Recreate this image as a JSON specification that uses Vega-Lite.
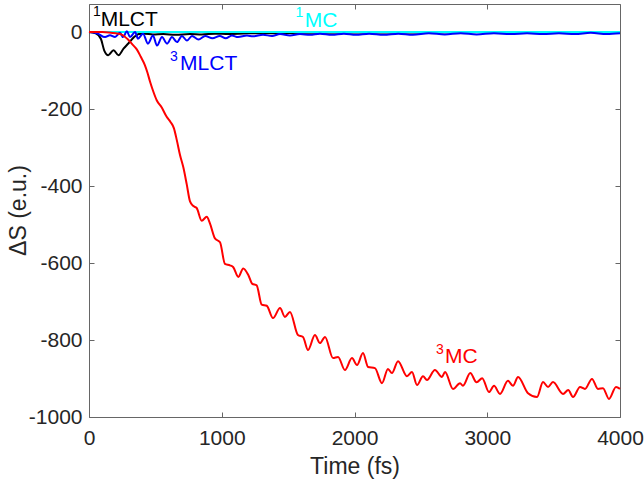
{
  "$schema": "https://vega.github.io/schema/vega-lite/v6.json",
  "width": 531,
  "height": 413,
  "autosize": {"type": "none"},
  "padding": {"left": 89, "top": 4, "right": 24, "bottom": 70},
  "background": "white",
  "config": {
    "view": {"stroke": null},
    "axis": {
      "grid": false,
      "domainColor": "#666666",
      "domainWidth": 1,
      "tickColor": "#666666",
      "tickSize": -5,
      "tickWidth": 1,
      "labelFont": "Liberation Sans",
      "labelFontSize": 21,
      "labelColor": "#262626",
      "titleFont": "Liberation Sans",
      "titleFontSize": 23,
      "titleFontWeight": "normal",
      "titleColor": "#262626",
      "labelFlush": false,
      "labelOverlap": false,
      "labelExpr": "toString(datum.value)"
    }
  },
  "datasets": {
    "curves": [
      {"s": "1MLCT", "t": 0, "v": 0}, {"s": "1MLCT", "t": 50, "v": -3}, {"s": "1MLCT", "t": 90, "v": -18}, {"s": "1MLCT", "t": 115, "v": -48}, {"s": "1MLCT", "t": 145, "v": -60}, {"s": "1MLCT", "t": 185, "v": -47}, {"s": "1MLCT", "t": 222, "v": -60}, {"s": "1MLCT", "t": 260, "v": -43}, {"s": "1MLCT", "t": 298, "v": -29}, {"s": "1MLCT", "t": 340, "v": -13}, {"s": "1MLCT", "t": 375, "v": -5}, {"s": "1MLCT", "t": 420, "v": -4}, {"s": "1MLCT", "t": 480, "v": -6}, {"s": "1MLCT", "t": 560, "v": -5}, {"s": "1MLCT", "t": 650, "v": -7}, {"s": "1MLCT", "t": 760, "v": -5}, {"s": "1MLCT", "t": 850, "v": -6}, {"s": "1MLCT", "t": 950, "v": -4}, {"s": "1MLCT", "t": 1050, "v": -5}, {"s": "1MLCT", "t": 1200, "v": -3}, {"s": "1MLCT", "t": 1400, "v": -3}, {"s": "1MLCT", "t": 1600, "v": -2}, {"s": "1MLCT", "t": 2000, "v": -1}, {"s": "1MLCT", "t": 2500, "v": -1}, {"s": "1MLCT", "t": 3000, "v": 0}, {"s": "1MLCT", "t": 4000, "v": 0},
      {"s": "1MC", "t": 0, "v": 0}, {"s": "1MC", "t": 1000, "v": 0}, {"s": "1MC", "t": 2000, "v": 0}, {"s": "1MC", "t": 3000, "v": 0}, {"s": "1MC", "t": 4000, "v": 0},
      {"s": "3MLCT", "t": 0, "v": 0}, {"s": "3MLCT", "t": 60, "v": -3}, {"s": "3MLCT", "t": 121, "v": -13}, {"s": "3MLCT", "t": 158, "v": -8}, {"s": "3MLCT", "t": 196, "v": -13}, {"s": "3MLCT", "t": 234, "v": -2}, {"s": "3MLCT", "t": 256, "v": -13}, {"s": "3MLCT", "t": 286, "v": 2}, {"s": "3MLCT", "t": 309, "v": -13}, {"s": "3MLCT", "t": 347, "v": 0}, {"s": "3MLCT", "t": 369, "v": -17}, {"s": "3MLCT", "t": 407, "v": -4}, {"s": "3MLCT", "t": 444, "v": -30}, {"s": "3MLCT", "t": 482, "v": -9}, {"s": "3MLCT", "t": 512, "v": -35}, {"s": "3MLCT", "t": 550, "v": -13}, {"s": "3MLCT", "t": 588, "v": -30}, {"s": "3MLCT", "t": 625, "v": -13}, {"s": "3MLCT", "t": 663, "v": -26}, {"s": "3MLCT", "t": 700, "v": -10}, {"s": "3MLCT", "t": 738, "v": -22}, {"s": "3MLCT", "t": 776, "v": -10}, {"s": "3MLCT", "t": 825, "v": -19}, {"s": "3MLCT", "t": 875, "v": -10}, {"s": "3MLCT", "t": 930, "v": -16}, {"s": "3MLCT", "t": 985, "v": -10}, {"s": "3MLCT", "t": 1030, "v": -16}, {"s": "3MLCT", "t": 1077, "v": -9}, {"s": "3MLCT", "t": 1122, "v": -13}, {"s": "3MLCT", "t": 1190, "v": -9}, {"s": "3MLCT", "t": 1235, "v": -11}, {"s": "3MLCT", "t": 1311, "v": -7}, {"s": "3MLCT", "t": 1379, "v": -10}, {"s": "3MLCT", "t": 1439, "v": -5}, {"s": "3MLCT", "t": 1514, "v": -9}, {"s": "3MLCT", "t": 1589, "v": -5}, {"s": "3MLCT", "t": 1665, "v": -7}, {"s": "3MLCT", "t": 1740, "v": -4}, {"s": "3MLCT", "t": 1830, "v": -7}, {"s": "3MLCT", "t": 1920, "v": -4}, {"s": "3MLCT", "t": 2010, "v": -7}, {"s": "3MLCT", "t": 2110, "v": -4}, {"s": "3MLCT", "t": 2220, "v": -7}, {"s": "3MLCT", "t": 2330, "v": -4}, {"s": "3MLCT", "t": 2440, "v": -7}, {"s": "3MLCT", "t": 2560, "v": -3}, {"s": "3MLCT", "t": 2680, "v": -6}, {"s": "3MLCT", "t": 2800, "v": -3}, {"s": "3MLCT", "t": 2920, "v": -6}, {"s": "3MLCT", "t": 3050, "v": -3}, {"s": "3MLCT", "t": 3180, "v": -5}, {"s": "3MLCT", "t": 3300, "v": -3}, {"s": "3MLCT", "t": 3420, "v": -5}, {"s": "3MLCT", "t": 3540, "v": -3}, {"s": "3MLCT", "t": 3660, "v": -5}, {"s": "3MLCT", "t": 3780, "v": -2}, {"s": "3MLCT", "t": 3900, "v": -5}, {"s": "3MLCT", "t": 4000, "v": -3},
      {"s": "3MC", "t": 0, "v": 0}, {"s": "3MC", "t": 100, "v": 0}, {"s": "3MC", "t": 150, "v": -1}, {"s": "3MC", "t": 200, "v": -3}, {"s": "3MC", "t": 250, "v": -7}, {"s": "3MC", "t": 290, "v": -18}, {"s": "3MC", "t": 330, "v": -33}, {"s": "3MC", "t": 360, "v": -45}, {"s": "3MC", "t": 390, "v": -64}, {"s": "3MC", "t": 420, "v": -85}, {"s": "3MC", "t": 440, "v": -105}, {"s": "3MC", "t": 460, "v": -129}, {"s": "3MC", "t": 485, "v": -155}, {"s": "3MC", "t": 510, "v": -177}, {"s": "3MC", "t": 548, "v": -196}, {"s": "3MC", "t": 585, "v": -220}, {"s": "3MC", "t": 615, "v": -234}, {"s": "3MC", "t": 640, "v": -250}, {"s": "3MC", "t": 661, "v": -280}, {"s": "3MC", "t": 686, "v": -320}, {"s": "3MC", "t": 711, "v": -352}, {"s": "3MC", "t": 736, "v": -395}, {"s": "3MC", "t": 761, "v": -440}, {"s": "3MC", "t": 786, "v": -452}, {"s": "3MC", "t": 811, "v": -457}, {"s": "3MC", "t": 849, "v": -490}, {"s": "3MC", "t": 887, "v": -480}, {"s": "3MC", "t": 911, "v": -497}, {"s": "3MC", "t": 949, "v": -536}, {"s": "3MC", "t": 987, "v": -546}, {"s": "3MC", "t": 1024, "v": -602}, {"s": "3MC", "t": 1062, "v": -606}, {"s": "3MC", "t": 1087, "v": -611}, {"s": "3MC", "t": 1125, "v": -636}, {"s": "3MC", "t": 1162, "v": -614}, {"s": "3MC", "t": 1200, "v": -631}, {"s": "3MC", "t": 1230, "v": -654}, {"s": "3MC", "t": 1263, "v": -658}, {"s": "3MC", "t": 1301, "v": -708}, {"s": "3MC", "t": 1339, "v": -711}, {"s": "3MC", "t": 1386, "v": -743}, {"s": "3MC", "t": 1439, "v": -717}, {"s": "3MC", "t": 1476, "v": -740}, {"s": "3MC", "t": 1514, "v": -727}, {"s": "3MC", "t": 1574, "v": -787}, {"s": "3MC", "t": 1612, "v": -792}, {"s": "3MC", "t": 1650, "v": -826}, {"s": "3MC", "t": 1702, "v": -787}, {"s": "3MC", "t": 1740, "v": -808}, {"s": "3MC", "t": 1778, "v": -792}, {"s": "3MC", "t": 1838, "v": -847}, {"s": "3MC", "t": 1876, "v": -844}, {"s": "3MC", "t": 1928, "v": -878}, {"s": "3MC", "t": 1981, "v": -847}, {"s": "3MC", "t": 2019, "v": -865}, {"s": "3MC", "t": 2064, "v": -834}, {"s": "3MC", "t": 2102, "v": -870}, {"s": "3MC", "t": 2154, "v": -873}, {"s": "3MC", "t": 2207, "v": -912}, {"s": "3MC", "t": 2252, "v": -875}, {"s": "3MC", "t": 2282, "v": -886}, {"s": "3MC", "t": 2328, "v": -855}, {"s": "3MC", "t": 2395, "v": -894}, {"s": "3MC", "t": 2433, "v": -883}, {"s": "3MC", "t": 2471, "v": -917}, {"s": "3MC", "t": 2516, "v": -894}, {"s": "3MC", "t": 2546, "v": -904}, {"s": "3MC", "t": 2606, "v": -878}, {"s": "3MC", "t": 2659, "v": -896}, {"s": "3MC", "t": 2682, "v": -883}, {"s": "3MC", "t": 2742, "v": -927}, {"s": "3MC", "t": 2795, "v": -912}, {"s": "3MC", "t": 2817, "v": -919}, {"s": "3MC", "t": 2872, "v": -886}, {"s": "3MC", "t": 2920, "v": -910}, {"s": "3MC", "t": 2962, "v": -899}, {"s": "3MC", "t": 3013, "v": -935}, {"s": "3MC", "t": 3051, "v": -919}, {"s": "3MC", "t": 3096, "v": -940}, {"s": "3MC", "t": 3156, "v": -906}, {"s": "3MC", "t": 3194, "v": -919}, {"s": "3MC", "t": 3232, "v": -896}, {"s": "3MC", "t": 3307, "v": -938}, {"s": "3MC", "t": 3375, "v": -948}, {"s": "3MC", "t": 3420, "v": -909}, {"s": "3MC", "t": 3458, "v": -922}, {"s": "3MC", "t": 3495, "v": -909}, {"s": "3MC", "t": 3571, "v": -940}, {"s": "3MC", "t": 3610, "v": -930}, {"s": "3MC", "t": 3646, "v": -948}, {"s": "3MC", "t": 3699, "v": -922}, {"s": "3MC", "t": 3736, "v": -927}, {"s": "3MC", "t": 3789, "v": -901}, {"s": "3MC", "t": 3834, "v": -927}, {"s": "3MC", "t": 3872, "v": -925}, {"s": "3MC", "t": 3917, "v": -953}, {"s": "3MC", "t": 3970, "v": -922}, {"s": "3MC", "t": 4000, "v": -927}
    ],
    "labels": [
      {"label": "MLCT", "t": 88, "v": 15, "c": "black"},
      {"label": "MC", "t": 1625, "v": 14, "c": "cyan"},
      {"label": "MLCT", "t": 686, "v": -99, "c": "blue"},
      {"label": "MC", "t": 2682, "v": -860, "c": "red"}
    ],
    "sups": [
      {"label": "1", "t": 30, "v": 43, "c": "black"},
      {"label": "1", "t": 1555, "v": 40, "c": "cyan"},
      {"label": "3", "t": 610, "v": -75, "c": "blue"},
      {"label": "3", "t": 2614, "v": -837, "c": "red"}
    ]
  },
  "data": {"name": "curves"},
  "layer": [
    {
      "transform": [{"filter": "datum.s === '1MLCT'"}],
      "mark": {"type": "line", "color": "#000000", "strokeWidth": 2, "interpolate": "monotone"},
      "encoding": {
        "x": {"field": "t", "type": "quantitative", "scale": {"domain": [0, 4000], "nice": false},
          "axis": {"orient": "bottom", "title": "Time (fs)", "values": [0, 1000, 2000, 3000, 4000], "labelPadding": 15, "titleY": 49, "titleBaseline": "middle"}},
        "y": {"field": "v", "type": "quantitative", "scale": {"domain": [-1000, 73], "nice": false, "zero": false},
          "axis": {"orient": "left", "title": "ΔS (e.u.)", "values": [-1000, -800, -600, -400, -200, 0], "labelPadding": 12, "titleX": -71, "titleY": 206, "titleAngle": -90, "titleBaseline": "middle", "titleAlign": "center"}}
      }
    },
    {
      "transform": [{"filter": "datum.s === '1MC'"}],
      "mark": {"type": "line", "color": "#00FFFF", "strokeWidth": 2},
      "encoding": {
        "x": {"field": "t", "type": "quantitative", "axis": {"orient": "top", "labels": false, "title": null, "values": [0, 1000, 2000, 3000, 4000]}},
        "y": {"field": "v", "type": "quantitative", "axis": {"orient": "right", "labels": false, "title": null, "values": [-1000, -800, -600, -400, -200, 0]}}
      }
    },
    {
      "transform": [{"filter": "datum.s === '3MLCT'"}],
      "mark": {"type": "line", "color": "#0000FF", "strokeWidth": 2, "interpolate": "monotone"},
      "encoding": {
        "x": {"field": "t", "type": "quantitative", "axis": null},
        "y": {"field": "v", "type": "quantitative", "axis": null}
      }
    },
    {
      "transform": [{"filter": "datum.s === '3MC'"}],
      "mark": {"type": "line", "color": "#FF0000", "strokeWidth": 2, "interpolate": "monotone"},
      "encoding": {
        "x": {"field": "t", "type": "quantitative", "axis": null},
        "y": {"field": "v", "type": "quantitative", "axis": null}
      }
    },
    {
      "data": {"name": "labels"},
      "mark": {"type": "text", "font": "Liberation Sans", "fontSize": 21, "align": "left", "baseline": "alphabetic"},
      "encoding": {
        "x": {"field": "t", "type": "quantitative", "axis": null},
        "y": {"field": "v", "type": "quantitative", "axis": null},
        "text": {"field": "label"},
        "color": {"field": "c", "type": "nominal", "scale": null}
      }
    },
    {
      "data": {"name": "sups"},
      "mark": {"type": "text", "font": "Liberation Sans", "fontSize": 14, "align": "left", "baseline": "alphabetic"},
      "encoding": {
        "x": {"field": "t", "type": "quantitative", "axis": null},
        "y": {"field": "v", "type": "quantitative", "axis": null},
        "text": {"field": "label"},
        "color": {"field": "c", "type": "nominal", "scale": null}
      }
    }
  ],
  "resolve": {"axis": {"x": "independent", "y": "independent"}}
}
